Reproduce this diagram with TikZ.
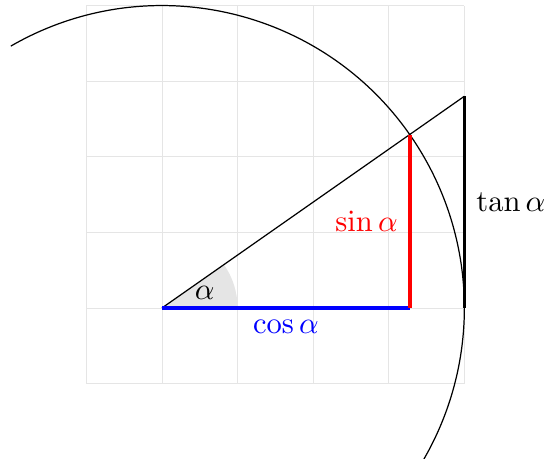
\documentclass[tikz,border=0pt]{standalone}
\usepackage{amsmath,amssymb}
\usetikzlibrary{calc}

\begin{document}
\begin{tikzpicture}[
  scale=0.87,
  gridline/.style={gray!20, very thin},
  wedge/.style={fill=gray!20},
  cosline/.style={blue, very thick},
  sinline/.style={red, very thick},
  tanline/.style={black, very thick}]
\useasboundingbox (-2.143,-1.997) rectangle (5.093,4.074);
\coordinate (O) at (0,0);
\coordinate (P) at (35:4);
\coordinate (A) at ({4*cos(35)},0);
\coordinate (B) at (4,0);
\coordinate (T) at (4,{4*tan(35)});
\draw[gridline] (-1,-1) grid (4,4);
\fill[wedge] (O) -- (1,0) arc (0:35:1) -- cycle;
\node (alpha) at (20:0.6) {$\alpha$};
\draw (120:4) arc (120:-30:4);
\draw (O) -- (T);
\draw[cosline] (O) -- node[below] (cos) {$\cos\alpha$} (A);
\draw[sinline] (A) -- node[left, text=red] (sin) {$\sin\alpha$} (P);
\draw[tanline] (B) -- node[right] (tan) {$\tan\alpha$} (T);
\end{tikzpicture}
\end{document}
